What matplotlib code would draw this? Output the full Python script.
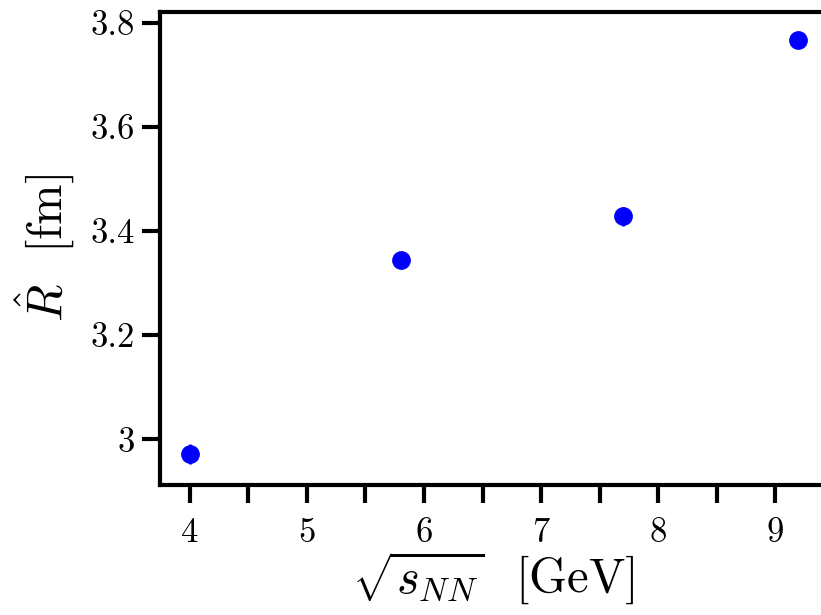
import numpy as np
import matplotlib
matplotlib.use('Agg')
import matplotlib.pyplot as plt
from matplotlib.ticker import FuncFormatter, MultipleLocator

plt.rcParams['font.family'] = 'serif'
plt.rcParams['font.serif'] = ['cmr10']
plt.rcParams['mathtext.fontset'] = 'cm'
plt.rcParams['axes.formatter.use_mathtext'] = True

# Data
sqrt_s = np.array([4.0, 5.8, 7.7, 9.2])
R_hat = np.array([2.971, 3.345, 3.428, 3.767])
u_R = np.array([0.019, 0.008, 0.019, 0.006])

fig = plt.figure(figsize=(8.21, 6.15), dpi=100)
ax = fig.add_axes([160/821, 1 - 485/615, 667/821, (485 - 12)/615])

ax.errorbar(sqrt_s, R_hat, u_R, fmt='o', color='blue', ms=12.5,
            elinewidth=2, capsize=0)

ax.set_xlim(3.744, 9.444)
ax.set_ylim(2.912, 3.821)

ax.xaxis.set_major_locator(MultipleLocator(1))
ax.xaxis.set_minor_locator(MultipleLocator(0.5))
ax.yaxis.set_major_locator(MultipleLocator(0.2))
ax.yaxis.set_major_formatter(FuncFormatter(lambda v, p: '%g' % round(v, 3)))
ax.xaxis.set_major_formatter(FuncFormatter(lambda v, p: '%g' % v))

ax.tick_params(which='both', direction='out', length=13, width=3, labelsize=25)
ax.tick_params(axis='x', which='both', pad=10)
ax.tick_params(axis='y', pad=5)
ax.tick_params(which='minor', labelbottom=False)
for s in ax.spines.values():
    s.set_linewidth(3)
ax.spines['right'].set_visible(False)

ax.set_xlabel(r'$\sqrt{s_{NN}}$  [GeV]', fontsize=35, labelpad=1)
ax.set_ylabel(r'$\hat{R}$  [fm]', fontsize=35, labelpad=10)

fig.savefig('out.png', dpi=100)
